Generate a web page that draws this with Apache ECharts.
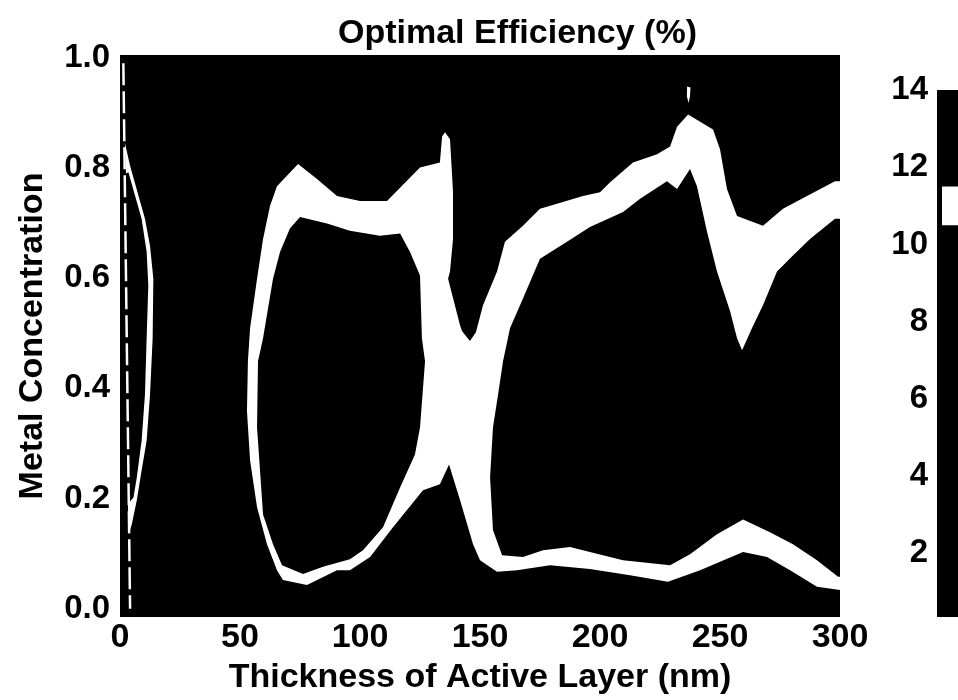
<!DOCTYPE html>
<html>
<head>
<meta charset="utf-8">
<script src="https://cdn.jsdelivr.net/npm/echarts@6/dist/echarts.min.js"></script>
<style>
  html, body { margin: 0; padding: 0; background: #fff; }
  #chart { width: 958px; height: 700px; }
</style>
</head>
<body>
<div id="chart"></div>
<script>
// Thickness (nm) ticks and metal-concentration ticks
const thicknessTicks = [0, 50, 100, 150, 200, 250, 300];
const concentrationTicks = [0, 0.2, 0.4, 0.6, 0.8, 1.0];
const efficiencyTicks = [2, 4, 6, 8, 10, 12, 14];

// Efficiency range shown on the colour scale, and the highlighted contour band (%)
const efficiencyRange = [0.35, 14];
const contourBand = [10.5, 11.5];

// Outline of the connected high-efficiency band (thickness nm, concentration)
const bandOutline = [
  [74.2, 0.807], [82.1, 0.780], [90.4, 0.749], [100, 0.740], [111.25, 0.740],
  [125, 0.801], [133.3, 0.810], [134.2, 0.857], [135.4, 0.865], [137.5, 0.852],
  [138.3, 0.792], [138.75, 0.756], [138.75, 0.671], [137.5, 0.612], [136.7, 0.599],
  [141.7, 0.514], [142.5, 0.504], [145.8, 0.486], [148.3, 0.502], [151.25, 0.551],
  [157.1, 0.612], [160.4, 0.666], [167.9, 0.695], [175, 0.726], [182.1, 0.735],
  [192.9, 0.749], [200, 0.756], [204.2, 0.774], [213.75, 0.810], [223.75, 0.825],
  [229.2, 0.839], [232.1, 0.875], [236.7, 0.897], [247.1, 0.870], [250, 0.834],
  [252.9, 0.762], [257.1, 0.713], [267.9, 0.695], [276.25, 0.726], [286.25, 0.749],
  [297.9, 0.776], [300, 0.776], [300, 0.034], [290.4, 0.040], [279.2, 0.070],
  [269.6, 0.094], [259.6, 0.103], [241.7, 0.070], [228.3, 0.049], [212.5, 0.061],
  [195.8, 0.072], [179.2, 0.079], [165.4, 0.070], [157.1, 0.067], [150, 0.088],
  [147.1, 0.117], [141.7, 0.197], [137.1, 0.262], [133.3, 0.226], [126.25, 0.215],
  [113.75, 0.148], [104.2, 0.094], [95.8, 0.070], [90.4, 0.070], [77.9, 0.043],
  [67.9, 0.052], [65.4, 0.070], [61.25, 0.117], [57.1, 0.184], [54.2, 0.269],
  [52.9, 0.359], [53.3, 0.449], [54.2, 0.509], [57.1, 0.599], [59.6, 0.671],
  [62.5, 0.731], [65.4, 0.767]
];

// Low-efficiency island enclosed by the left loop
const leftIsland = [
  [75, 0.711], [86.25, 0.699], [95.8, 0.686], [108.3, 0.677], [116.7, 0.681],
  [120.8, 0.648], [125, 0.605], [125.8, 0.491], [127.1, 0.449], [125, 0.329],
  [122.9, 0.280], [116.7, 0.220], [109.6, 0.148], [101.25, 0.106], [95.8, 0.090],
  [84.6, 0.076], [76.25, 0.063], [67.5, 0.079], [63.75, 0.117], [59.6, 0.171],
  [57.1, 0.329], [57.5, 0.449], [59.6, 0.491], [63.75, 0.599], [66.7, 0.648],
  [70.8, 0.690]
];

// Low-efficiency island enclosed by the right loop (open at 300 nm)
const rightIsland = [
  [162.5, 0.509], [167.9, 0.563], [175, 0.635], [186.25, 0.666], [195.8, 0.693],
  [209.6, 0.720], [216.7, 0.744], [227.9, 0.776], [232.1, 0.762], [237.5, 0.798],
  [240.4, 0.767], [244.6, 0.684], [248.75, 0.612], [254.2, 0.540], [257.1, 0.491],
  [259.2, 0.469], [263.3, 0.509], [267.9, 0.551], [273.75, 0.612], [280.4, 0.641],
  [287.5, 0.671], [297.9, 0.708], [300, 0.708], [300, 0.058], [299.2, 0.058],
  [290.4, 0.088], [280.4, 0.117], [270.8, 0.139], [259.6, 0.162], [248.75, 0.135],
  [237.5, 0.099], [229.2, 0.079], [209.6, 0.088], [195.8, 0.103], [187.5, 0.112],
  [176.25, 0.106], [167.9, 0.094], [159.2, 0.097], [155.4, 0.143], [154.2, 0.238],
  [155.4, 0.329], [157.5, 0.388], [159.6, 0.449]
];

// Thin band next to zero thickness
const thinBand = [
  [2.0, 0.846], [4.2, 0.804], [10.4, 0.708], [12.5, 0.659], [13.9, 0.599],
  [13.6, 0.491], [12.5, 0.388], [11.1, 0.305], [9.0, 0.251], [7.0, 0.197],
  [4.9, 0.153], [3.6, 0.135], [3.3, 0.19], [5.6, 0.202], [7.0, 0.238],
  [9.0, 0.305], [10.4, 0.389], [11.1, 0.491], [11.8, 0.587], [11.1, 0.648],
  [9.0, 0.708], [3.5, 0.792], [2.5, 0.79]
];

// Small isolated patch above the right-hand peak
const peakPatch = [
  [236.3, 0.948], [237.7, 0.946], [237.5, 0.930], [236.9, 0.918], [236.2, 0.930]
];

// Dashed contour along the zero-thickness edge
const edgeContour = [[1.4, 0.99], [4.2, 0.0]];

const FONT = "'Liberation Sans', Arial, sans-serif";
const textStyle = { color: '#000', fontFamily: FONT, fontWeight: 'bold' };

function polygonSeries(name, pts, fill) {
  return {
    type: 'custom',
    name: name,
    xAxisIndex: 0,
    yAxisIndex: 0,
    silent: true,
    clip: true,
    data: pts,
    renderItem: function (params, api) {
      if (params.dataIndex !== 0) return null;
      return {
        type: 'polygon',
        shape: { points: pts.map(function (p) { return api.coord(p); }) },
        style: { fill: fill, stroke: null }
      };
    }
  };
}

const chart = echarts.init(document.getElementById('chart'), null, { renderer: 'canvas' });

chart.setOption({
  backgroundColor: '#fff',
  animation: false,
  title: {
    text: 'Optimal Efficiency (%)',
    left: 333,
    top: 12,
    textStyle: Object.assign({ fontSize: 34 }, textStyle)
  },
  grid: [
    { left: 120, top: 55, width: 720, height: 565, show: true, backgroundColor: '#000', borderWidth: 0 },
    { left: 937, top: 90, width: 40, height: 527, show: true, backgroundColor: '#000', borderWidth: 0 }
  ],
  xAxis: [
    {
      type: 'value', gridIndex: 0, min: 0, max: 300, interval: 50,
      name: 'Thickness of Active Layer (nm)',
      nameLocation: 'middle', nameGap: 44,
      nameTextStyle: Object.assign({ fontSize: 34 }, textStyle),
      axisLine: { show: false }, axisTick: { show: false }, splitLine: { show: false },
      axisLabel: Object.assign({ fontSize: 34, margin: 4, customValues: thicknessTicks }, textStyle)
    },
    { type: 'value', gridIndex: 1, min: 0, max: 1, show: false }
  ],
  yAxis: [
    {
      type: 'value', gridIndex: 0, min: -0.015, max: 1.005,
      name: 'Metal Concentration',
      nameLocation: 'middle', nameGap: 70,
      nameTextStyle: Object.assign({ fontSize: 34 }, textStyle),
      axisLine: { show: false }, axisTick: { show: false }, splitLine: { show: false },
      axisLabel: Object.assign({
        fontSize: 33, margin: 10, customValues: concentrationTicks,
        formatter: function (v) { return v.toFixed(1); }
      }, textStyle)
    },
    {
      type: 'value', gridIndex: 1, min: efficiencyRange[0], max: efficiencyRange[1],
      axisLine: { show: false }, axisTick: { show: false }, splitLine: { show: false },
      axisLabel: Object.assign({ fontSize: 33, margin: 9, customValues: efficiencyTicks }, textStyle)
    }
  ],
  series: [
    polygonSeries('band', bandOutline, '#fff'),
    polygonSeries('left island', leftIsland, '#000'),
    polygonSeries('right island', rightIsland, '#000'),
    polygonSeries('thin band', thinBand, '#fff'),
    polygonSeries('peak patch', peakPatch, '#fff'),
    {
      type: 'line', xAxisIndex: 0, yAxisIndex: 0, silent: true,
      data: edgeContour, symbol: 'none',
      lineStyle: { color: '#fff', width: 2.5, type: [22, 6] }
    },
    {
      type: 'custom', name: 'colour scale', xAxisIndex: 1, yAxisIndex: 1, silent: true,
      data: [contourBand],
      renderItem: function (params, api) {
        const top = api.coord([0, api.value(1)]);
        const bottom = api.coord([0, api.value(0)]);
        return {
          type: 'rect',
          shape: { x: top[0] + 5, y: top[1], width: 40, height: bottom[1] - top[1] },
          style: { fill: '#fff' }
        };
      }
    }
  ]
});
</script>
</body>
</html>
